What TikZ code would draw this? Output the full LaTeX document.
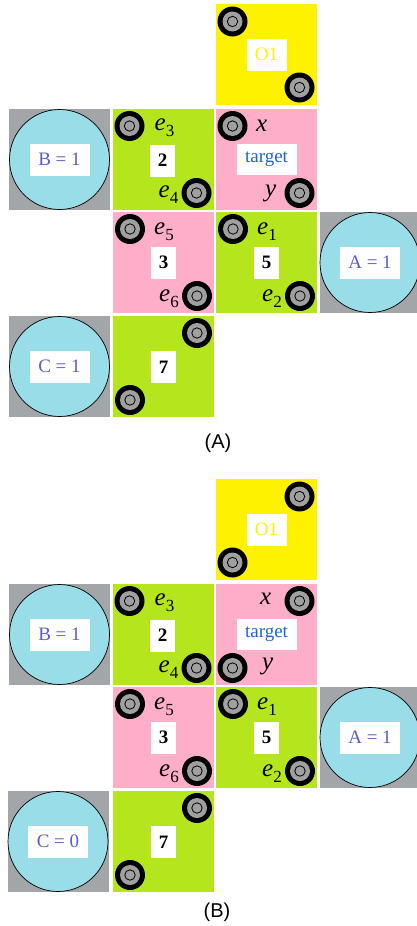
\documentclass[tikz,border=0pt]{standalone}
\usepackage{fontspec}
\setmainfont{Liberation Serif}
\newfontfamily\capfont{Liberation Sans}
\definecolor{cyel}{HTML}{FFF200}
\definecolor{cgreen}{HTML}{B5E61D}
\definecolor{cpink}{HTML}{FFAEC9}
\definecolor{cblue}{HTML}{99DDE9}
\definecolor{cgray}{HTML}{A2A6A8}
\definecolor{wgray}{HTML}{A0A0A0}
\definecolor{vtext}{HTML}{5B5EC4}
\definecolor{ttext}{HTML}{1F62D2}
\newcommand\elab[1]{\textit{e}\raisebox{-6pt}{\fontsize{17}{17}\selectfont #1}}
\tikzset{
  cellbox/.style={rectangle, minimum size=101pt, inner sep=0pt, anchor=north west, fill=#1},
  wheel/.style={circle, fill=black, minimum size=30pt, inner sep=0pt,
    path picture={\fill[wgray] (path picture bounding box.center) circle (10pt);
      \draw[line width=0.8pt, fill=wgray] (path picture bounding box.center) circle (5.2pt);}},
  numbox/.style={fill=white, minimum width=25pt, minimum height=32pt, inner sep=0pt,
    font=\fontsize{19}{19}\selectfont\bfseries},
  wordbox/.style={fill=white, minimum width=60pt, minimum height=32pt, inner sep=0pt,
    font=\fontsize{19}{19}\selectfont},
  valcircle/.style={circle, draw=black, line width=0.7pt, fill=cblue, minimum size=100pt, inner sep=0pt},
  lab/.style={anchor=base west, inner sep=0pt, font=\fontsize{25}{25}\selectfont},
  caption/.style={font=\capfont\fontsize{20}{20}\selectfont, inner sep=0pt}
}
% common part of a panel: #1 prefix, #2 C value, #3 C left x
\newcommand\panel[3]{%
  % yellow O1 cell
  \node[cellbox=cyel] (#1o1) at (216,4) {};
  \node[wordbox, minimum width=40pt, text=cyel] (#1o1t) at (266.5,54.5) {O1};
  % row 1
  \node[cellbox=cgray] (#1bsq) at (9,109) {};
  \node[valcircle, text=vtext] (#1b) at (59.5,159.5) {};
  \node[wordbox, text=vtext] (#1bt) at (59.5,159.5) {B = 1};
  \node[cellbox=cgreen] (#1c2) at (112.5,109) {};
  \node[numbox] (#1c2t) at (162.5,160.5) {2};
  \node[wheel] (#1c2a) at (129.5,126) {};
  \node[wheel] (#1c2b) at (196.5,193) {};
  \node[lab] (#1e3) at (154.5,130) {\elab{3}};
  \node[lab] (#1e4) at (158.5,197) {\elab{4}};
  \node[cellbox=cpink] (#1tg) at (216,109) {};
  \node[wordbox, minimum height=31pt, text=ttext] (#1tgt) at (266.5,159) {target};
  % row 2
  \node[cellbox=cpink] (#1c3) at (113,212) {};
  \node[numbox] (#1c3t) at (163.5,262.5) {3};
  \node[wheel] (#1c3a) at (130,229) {};
  \node[wheel] (#1c3b) at (197,296) {};
  \node[lab] (#1e5) at (154,234) {\elab{5}};
  \node[lab] (#1e6) at (159,301) {\elab{6}};
  \node[cellbox=cgreen] (#1c5) at (216,212) {};
  \node[numbox] (#1c5t) at (266.5,262.5) {5};
  \node[wheel] (#1c5a) at (233,229) {};
  \node[wheel] (#1c5b) at (300,296) {};
  \node[lab] (#1e1) at (257,234) {\elab{1}};
  \node[lab] (#1e2) at (262,301) {\elab{2}};
  \node[cellbox=cgray] (#1asq) at (320,212) {};
  \node[valcircle] (#1a) at (370,262.5) {};
  \node[wordbox, text=vtext] (#1at) at (370,262.5) {A = 1};
  % row 3
  \node[cellbox=cgray] (#1csq) at (#3,316) {};
  \node[valcircle] (#1c) at ({#3+50.5},366.5) {};
  \node[wordbox, text=vtext] (#1ct) at ({#3+50.5},366.5) {C = #2};
  \node[cellbox=cgreen] (#1c7) at (113,316) {};
  \node[numbox] (#1c7t) at (163.5,367) {7};
  \node[wheel] (#1c7a) at (197,333) {};
  \node[wheel] (#1c7b) at (130,400) {};
}
\begin{document}
\begin{tikzpicture}[x=1pt,y=-1pt]
\useasboundingbox (0,0) rectangle (417,926);
\clip (0,0) rectangle (417,926);
% ---------- panel A ----------
\panel{A}{1}{9}
\node[wheel] (Ao1a) at (232.5,21.5) {};
\node[wheel] (Ao1b) at (299.5,87.5) {};
\node[wheel] (Atga) at (232.5,126) {};
\node[wheel] (Atgb) at (299.5,193) {};
\node[lab] (Ax) at (256,131) {\textit{x}};
\node[lab] (Ay) at (265,196) {\textit{y}};
\node[caption] (Acap) at (218,443) {(A)};
% ---------- panel B ----------
\begin{scope}[shift={(0,475)}]
\panel{B}{0}{7.5}
\node[wheel] (Bo1a) at (299.5,21.5) {};
\node[wheel] (Bo1b) at (232.5,87.5) {};
\node[wheel] (Btga) at (299.5,126) {};
\node[wheel] (Btgb) at (232.5,193) {};
\node[lab] (Bx) at (260,129) {\textit{x}};
\node[lab] (By) at (262,194) {\textit{y}};
\node[caption] (Bcap) at (217,437) {(B)};
\end{scope}
\end{tikzpicture}
\end{document}
